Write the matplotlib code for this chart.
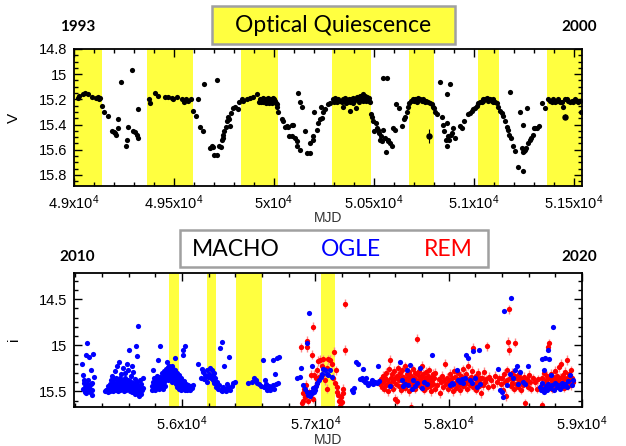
import matplotlib
matplotlib.use('Agg')
import matplotlib.pyplot as plt
from matplotlib.ticker import MultipleLocator, FuncFormatter
from matplotlib.patches import Rectangle

plt.rcParams['font.family'] = ['Liberation Sans', 'DejaVu Sans']
plt.rcParams['mathtext.default'] = 'regular'

# ---------------- top panel: MACHO V light curve (MJD, V) ----------------
macho_pts = [
    (49020, 15.19), (49025, 15.17), (49045, 15.16), (49055, 15.15), (49070, 15.16), (49090, 15.18),
    (49110, 15.19), (49118, 15.18), (49125, 15.20), (49130, 15.19),
    (49140, 15.25), (49150, 15.30), (49168, 15.33), (49192, 15.45), (49200, 15.46), (49205, 15.47),
    (49210, 15.48), (49218, 15.43), (49222, 15.36), (49237, 15.06), (49258, 15.57), (49263, 15.52),
    (49272, 15.42), (49288, 14.97), (49293, 15.45), (49303, 15.46), (49317, 15.48), (49320, 15.51),
    (49322, 15.28),
    (49377, 15.20), (49380, 15.23), (49405, 15.15), (49422, 15.17), (49455, 15.18), (49472, 15.18),
    (49488, 15.19), (49497, 15.20), (49517, 15.18), (49538, 15.20), (49550, 15.22), (49560, 15.20),
    (49572, 15.21), (49583, 15.20),
    (49597, 15.29), (49610, 15.33), (49622, 15.20), (49630, 15.42), (49643, 15.45), (49650, 15.08),
    (49680, 15.59), (49688, 15.57), (49697, 15.58), (49702, 15.64), (49713, 15.64), (49717, 15.05),
    (49727, 15.57), (49733, 15.58), (49738, 15.52), (49743, 15.51), (49747, 15.48), (49752, 15.45),
    (49758, 15.42), (49763, 15.37), (49768, 15.34), (49775, 15.36), (49780, 15.41), (49785, 15.31),
    (49793, 15.27), (49805, 15.26), (49818, 15.28), (49827, 15.22), (49838, 15.20),
    (49847, 15.21), (49863, 15.20), (49880, 15.19), (49897, 15.18), (49913, 15.16), (49925, 15.22),
    (49930, 15.20), (49935, 15.22), (49938, 15.20), (49940, 15.21), (49943, 15.22), (49947, 15.19),
    (49950, 15.20), (49955, 15.21), (49958, 15.23), (49960, 15.20), (49963, 15.20), (49967, 15.22),
    (49970, 15.22), (49972, 15.19), (49975, 15.23), (49977, 15.21), (49980, 15.20), (49983, 15.22),
    (49985, 15.21), (49988, 15.20), (49990, 15.23), (49993, 15.20), (49997, 15.19), (50000, 15.22),
    (50002, 15.20), (50005, 15.21), (50008, 15.23), (50013, 15.24), (50017, 15.26),
    (50022, 15.30), (50038, 15.36), (50047, 15.37), (50055, 15.42), (50063, 15.41), (50072, 15.42),
    (50077, 15.49), (50088, 15.40), (50090, 15.49), (50097, 15.40), (50105, 15.51), (50113, 15.53),
    (50117, 15.57), (50122, 15.15), (50128, 15.22), (50132, 15.60), (50138, 15.26), (50155, 15.45),
    (50163, 15.63), (50180, 15.63), (50182, 15.55), (50193, 15.52), (50197, 15.49), (50200, 15.30),
    (50213, 15.44), (50222, 15.39), (50230, 15.36), (50233, 15.26), (50238, 15.35), (50247, 15.30),
    (50255, 15.28), (50272, 15.24), (50280, 15.23),
    (50297, 15.20), (50300, 15.22), (50305, 15.19), (50310, 15.21), (50317, 15.22), (50322, 15.20),
    (50330, 15.21), (50338, 15.22), (50343, 15.20), (50345, 15.26), (50350, 15.21), (50355, 15.19),
    (50358, 15.23), (50363, 15.22), (50368, 15.21), (50373, 15.20), (50378, 15.29), (50380, 15.22),
    (50385, 15.20), (50390, 15.21), (50395, 15.23), (50397, 15.19), (50402, 15.21), (50407, 15.20),
    (50412, 15.27), (50413, 15.18), (50418, 15.20), (50423, 15.19), (50425, 15.22), (50430, 15.17),
    (50435, 15.20), (50440, 15.18), (50445, 15.21), (50447, 15.16), (50452, 15.19), (50457, 15.17),
    (50460, 15.21), (50463, 15.18), (50468, 15.20), (50473, 15.21), (50475, 15.19), (50480, 15.22),
    (50483, 15.32), (50488, 15.34), (50497, 15.37), (50500, 15.45), (50510, 15.39), (50517, 15.43),
    (50522, 15.44), (50527, 15.47), (50530, 15.52), (50533, 15.49), (50538, 15.53), (50543, 15.44),
    (50547, 15.03), (50567, 15.03), (50555, 15.51), (50560, 15.62), (50569, 15.53), (50572, 15.52),
    (50580, 15.55), (50588, 15.57), (50597, 15.43), (50605, 15.44), (50610, 15.24), (50627, 15.27),
    (50638, 15.41), (50650, 15.36), (50655, 15.34), (50663, 15.30), (50672, 15.26),
    (50677, 15.23), (50683, 15.21), (50693, 15.20), (50700, 15.21), (50705, 15.20), (50713, 15.20),
    (50717, 15.22), (50722, 15.19), (50730, 15.20), (50738, 15.21), (50745, 15.20), (50750, 15.21),
    (50755, 15.22), (50760, 15.21), (50772, 15.22), (50780, 15.23), (50788, 15.24), (50793, 15.26),
    (50800, 15.27), (50805, 15.30), (50813, 15.32), (50830, 15.06), (50838, 15.34), (50847, 15.40),
    (50850, 15.45), (50860, 15.52), (50863, 15.16), (50865, 15.57), (50867, 15.39), (50872, 15.49),
    (50877, 15.52), (50880, 15.08), (50883, 15.48), (50888, 15.47), (50897, 15.43), (50905, 15.51),
    (50930, 15.41), (50942, 15.43), (50950, 15.37), (50972, 15.32), (50980, 15.31), (50988, 15.29),
    (50997, 15.28), (51005, 15.27), (51013, 15.25),
    (51022, 15.23), (51030, 15.22), (51038, 15.22), (51043, 15.21), (51047, 15.20), (51055, 15.20),
    (51063, 15.19), (51068, 15.21), (51072, 15.20), (51080, 15.20), (51088, 15.21), (51093, 15.20),
    (51097, 15.22), (51105, 15.22), (51113, 15.23), (51122, 15.26),
    (51130, 15.29), (51138, 15.31), (51143, 15.33), (51155, 15.37), (51163, 15.42), (51172, 15.44),
    (51177, 15.48), (51180, 15.14), (51183, 15.51), (51193, 15.57), (51205, 15.61), (51222, 15.74),
    (51230, 15.30), (51238, 15.59), (51243, 15.62), (51245, 15.40), (51247, 15.77), (51250, 15.61),
    (51255, 15.60), (51260, 15.59), (51267, 15.27), (51272, 15.55), (51280, 15.52), (51285, 15.51),
    (51297, 15.48), (51299, 15.43), (51305, 15.43), (51313, 15.43), (51327, 15.41), (51338, 15.23),
    (51355, 15.27),
    (51372, 15.20), (51380, 15.21), (51388, 15.22), (51397, 15.20), (51405, 15.22), (51413, 15.21),
    (51422, 15.20), (51430, 15.22), (51438, 15.22), (51447, 15.26), (51455, 15.20), (51463, 15.20),
    (51472, 15.21), (51480, 15.22), (51488, 15.21), (51497, 15.22), (51505, 15.20), (51513, 15.21),
    (51522, 15.22), (51530, 15.21), (51535, 15.30),
]
macho_err_mjd = [50777, 51455]
macho_err_v = [15.49, 15.34]
macho_err_e = [0.055, 0.02]

top_bands = [(49000, 49140), (49364, 49594), (49837, 50022), (50288, 50483),
             (50673, 50800), (51022, 51125), (51365, 51540)]

# ---------------- bottom panel: OGLE (blue) and REM (red), (MJD, i) ----------------
ogle_pts = [
    (55247, 15.20), (55255, 15.47), (55260, 15.32), (55265, 15.41), (55267, 15.38), (55272, 15.45),
    (55274, 15.51), (55277, 15.52), (55280, 15.11), (55285, 15.42), (55287, 15.47), (55290, 14.97),
    (55295, 15.49), (55297, 15.38), (55300, 15.43), (55302, 15.13), (55305, 15.44), (55310, 15.47),
    (55312, 15.51), (55315, 15.27), (55317, 15.42), (55322, 15.49), (55324, 15.41), (55327, 15.54),
    (55335, 15.09), (55337, 15.34),
    (55422, 15.50), (55430, 15.49), (55437, 15.48), (55442, 15.51), (55447, 15.44), (55452, 15.47),
    (55457, 15.42), (55460, 15.50), (55465, 15.38), (55470, 15.45), (55472, 15.33), (55477, 15.48),
    (55480, 15.41), (55485, 15.50), (55487, 15.37), (55492, 15.45), (55495, 15.28), (55498, 15.42),
    (55502, 15.48), (55505, 15.35), (55510, 15.44), (55512, 15.22), (55515, 15.40), (55518, 15.50),
    (55522, 15.38), (55525, 15.46), (55528, 15.18), (55530, 15.42), (55535, 15.36), (55537, 15.49),
    (55540, 15.44), (55543, 15.31), (55546, 15.40), (55550, 15.47), (55553, 15.38), (55556, 15.45),
    (55560, 15.25), (55562, 15.41), (55566, 15.50), (55570, 15.36), (55573, 15.44), (55576, 15.30),
    (55580, 15.48), (55583, 15.40), (55586, 15.20), (55590, 15.45), (55593, 15.38), (55596, 15.27),
    (55600, 15.46), (55603, 15.42), (55605, 15.05), (55608, 15.50), (55612, 15.39), (55615, 15.33),
    (55618, 15.47), (55622, 15.44), (55625, 15.23), (55628, 15.51), (55632, 15.41), (55635, 15.29),
    (55638, 15.48), (55642, 15.45), (55645, 15.53), (55650, 15.37), (55652, 15.43), (55655, 15.01),
    (55658, 15.49), (55660, 15.52), (55663, 15.40), (55666, 15.12), (55668, 15.46), (55672, 14.79),
    (55674, 15.55), (55677, 15.50), (55680, 15.44), (55683, 15.38), (55686, 15.51), (55690, 15.47),
    (55693, 15.42), (55696, 15.53), (55700, 15.49), (55704, 15.36), (55708, 15.46),
    (55772, 15.44), (55776, 15.48), (55780, 15.40), (55785, 15.27), (55788, 15.45), (55792, 15.36),
    (55795, 15.49), (55800, 15.42), (55803, 15.38), (55807, 15.46), (55810, 15.33), (55814, 15.44),
    (55818, 15.40), (55822, 15.16), (55825, 15.47), (55828, 15.37), (55832, 15.43), (55835, 15.01),
    (55838, 15.34), (55842, 15.45), (55845, 15.39), (55848, 15.30), (55852, 15.42), (55855, 15.36),
    (55858, 15.47), (55862, 15.33), (55865, 15.40), (55868, 15.28), (55872, 15.37), (55875, 15.44),
    (55878, 15.31), (55882, 15.26), (55885, 15.18), (55888, 15.34), (55892, 15.24), (55895, 15.29),
    (55898, 15.38), (55902, 15.22), (55905, 15.27), (55908, 15.33), (55912, 15.25), (55915, 15.30),
    (55918, 15.36), (55922, 15.23), (55925, 15.28), (55928, 15.40), (55932, 15.26), (55935, 15.32),
    (55938, 15.29), (55942, 15.37), (55945, 15.31), (55947, 15.14), (55950, 15.27), (55953, 15.42),
    (55956, 15.34), (55960, 15.30), (55963, 15.39), (55966, 15.45), (55970, 15.35), (55973, 15.41),
    (55976, 15.32), (55980, 15.47), (55983, 15.38), (55986, 15.44), (55990, 15.40), (55993, 15.48),
    (55996, 15.36), (56000, 15.43), (56003, 15.46), (56005, 15.11), (56008, 15.41), (56010, 15.05),
    (56013, 15.47), (56016, 15.39), (56020, 15.44), (56022, 15.01), (56026, 15.48), (56030, 15.42),
    (56035, 15.46), (56040, 15.49), (56045, 15.43), (56050, 15.47), (56056, 15.45), (56062, 15.48),
    (56068, 15.44), (56075, 15.46), (56082, 15.43),
    (56122, 15.20), (56140, 15.35), (56150, 15.26), (56160, 15.29), (56165, 15.37), (56172, 15.32),
    (56178, 15.33), (56185, 15.27), (56190, 15.40), (56197, 15.34), (56205, 15.31), (56210, 15.25),
    (56215, 15.35), (56222, 15.27), (56230, 15.38), (56235, 15.32), (56240, 15.30), (56242, 15.41),
    (56250, 15.36), (56255, 15.45), (56260, 15.44), (56265, 15.40), (56272, 15.47), (56280, 15.43),
    (56285, 15.03), (56290, 15.48), (56297, 15.50), (56302, 14.96), (56310, 15.45), (56317, 15.23),
    (56322, 15.49), (56330, 15.50), (56335, 15.47), (56340, 15.42), (56347, 15.45), (56355, 15.13),
    (56360, 15.49), (56372, 15.44), (56385, 15.41), (56397, 15.40),
    (56497, 15.41), (56522, 15.40), (56540, 15.35), (56555, 15.38), (56565, 15.41), (56580, 15.42),
    (56592, 15.44),
    (56610, 15.16), (56615, 15.45), (56620, 15.38), (56630, 15.42), (56635, 15.49), (56647, 15.47),
    (56655, 15.44), (56660, 15.49), (56672, 15.45), (56680, 15.16), (56685, 15.43), (56690, 15.47),
    (56697, 15.31), (56705, 15.42), (56715, 15.14), (56722, 15.41), (56730, 15.13),
    (56860, 15.35), (56885, 15.34), (56890, 15.25), (56910, 15.43), (56922, 15.47), (56935, 14.98),
    (56937, 15.51), (56947, 15.54), (56955, 14.65), (56960, 15.55), (56967, 15.51), (56972, 15.52),
    (56975, 15.23), (56985, 15.46), (56988, 15.51), (56997, 15.49), (57005, 15.44), (57015, 15.41),
    (57030, 15.38), (57040, 15.34), (57047, 15.31), (57060, 15.26), (57072, 15.27), (57085, 15.31),
    (57097, 15.32), (57110, 15.27), (57122, 15.34),
    (57272, 15.49), (57285, 15.51), (57290, 15.46), (57305, 15.18), (57322, 15.20), (57335, 15.37),
    (57347, 15.35), (57355, 15.26), (57360, 15.38), (57372, 15.40), (57380, 15.36), (57390, 15.41),
    (57397, 15.43), (57410, 15.41), (57422, 15.38), (57435, 15.42), (57447, 15.40), (57460, 15.41),
    (57472, 15.23), (57480, 15.39),
    (57560, 15.44), (57635, 15.18), (57647, 15.38), (57660, 15.44), (57672, 15.42), (57685, 15.27),
    (57697, 15.43), (57710, 15.21), (57722, 15.47), (57735, 15.38), (57747, 15.44), (57760, 15.41),
    (57785, 15.25), (57797, 15.46), (57815, 15.40), (57835, 15.42), (57872, 15.11),
    (58010, 15.43), (58022, 15.41), (58035, 15.42), (58060, 15.27), (58072, 15.38), (58085, 15.40),
    (58097, 15.37), (58110, 15.41), (58122, 15.35), (58130, 15.11), (58147, 15.14), (58160, 15.38),
    (58172, 15.41), (58185, 15.06), (58197, 15.36), (58210, 15.45), (58230, 15.05), (58235, 15.42),
    (58372, 15.26), (58385, 15.49), (58397, 15.51), (58405, 15.56), (58415, 14.63), (58435, 15.43),
    (58460, 15.31), (58467, 14.49), (58485, 15.36), (58497, 15.27), (58510, 15.23), (58522, 15.42),
    (58535, 15.29), (58560, 15.40), (58572, 15.42), (58597, 15.23),
    (58685, 15.45), (58692, 15.49), (58697, 15.15), (58702, 15.41), (58710, 15.47), (58715, 15.27),
    (58717, 15.51), (58722, 15.14), (58727, 15.44), (58735, 15.48), (58742, 15.42), (58747, 15.05),
    (58755, 15.15), (58760, 15.46), (58765, 15.32), (58772, 15.43), (58785, 14.80), (58788, 15.48),
    (58797, 15.41), (58810, 15.45), (58822, 15.43), (58835, 15.47), (58847, 15.41), (58860, 15.44),
    (58872, 15.42), (58885, 15.45), (58897, 15.39), (58910, 15.32), (58922, 15.43), (58935, 15.38),
]

rem_pts = [
    (56890, 15.02), (56897, 15.63), (56905, 15.60), (56910, 15.52), (56915, 15.47), (56922, 15.56),
    (56930, 15.43), (56935, 14.95), (56940, 15.02), (56947, 15.60), (56955, 15.51), (56960, 15.54),
    (56965, 15.32), (56972, 15.10), (56980, 15.58), (56985, 14.80), (56990, 15.32), (56997, 15.45),
    (57005, 15.36), (57010, 15.27), (57012, 15.41), (57022, 15.17), (57030, 15.34), (57035, 15.16),
    (57047, 15.32), (57050, 15.23), (57060, 15.15), (57072, 15.38), (57085, 15.25), (57088, 15.47),
    (57097, 15.15), (57110, 15.16), (57122, 15.20), (57135, 15.35), (57142, 15.07), (57147, 15.41),
    (57155, 15.27), (57160, 15.45), (57165, 15.51), (57172, 15.54), (57180, 15.60), (57185, 15.66),
    (57192, 15.56), (57197, 15.62), (57205, 15.52), (57210, 15.47), (57222, 15.05), (57224, 14.55),
    (57485, 15.42), (57492, 15.37), (57498, 15.45), (57505, 15.33), (57510, 15.40), (57516, 15.47),
    (57522, 15.35), (57528, 15.30), (57533, 15.43), (57540, 15.38), (57545, 15.50), (57550, 15.26),
    (57556, 15.41), (57560, 15.16), (57565, 15.36), (57570, 15.44), (57575, 15.31), (57580, 15.39),
    (57585, 15.47), (57590, 15.28), (57597, 15.58), (57600, 15.35), (57605, 15.42), (57610, 15.60),
    (57614, 15.33), (57620, 15.25), (57625, 15.44), (57630, 15.38), (57636, 15.30), (57640, 15.48),
    (57645, 15.36), (57650, 15.27), (57655, 15.43), (57660, 15.34), (57665, 15.40), (57670, 15.23),
    (57675, 15.46), (57680, 15.37), (57686, 15.31), (57690, 15.42), (57695, 15.35), (57700, 15.50),
    (57705, 15.29), (57710, 15.39), (57717, 15.67), (57720, 15.33), (57725, 15.44), (57730, 15.26),
    (57735, 15.40), (57740, 15.36), (57745, 15.47), (57750, 15.30), (57755, 15.38), (57760, 14.93),
    (57765, 15.43), (57770, 15.32), (57775, 15.41), (57780, 15.28), (57785, 15.37), (57790, 15.45),
    (57796, 15.34), (57800, 15.22), (57805, 15.40), (57810, 15.31), (57815, 15.48), (57820, 15.36),
    (57826, 15.42), (57830, 15.29), (57835, 15.38), (57840, 15.45), (57846, 15.33), (57850, 15.40),
    (57855, 15.27), (57860, 15.44), (57866, 15.35), (57870, 15.50), (57875, 15.38), (57880, 15.31),
    (57886, 15.42), (57890, 15.36), (57896, 15.47), (57900, 15.30),
    (57915, 15.43), (57925, 15.37), (57935, 15.52), (57945, 15.40), (57952, 15.33), (57960, 15.45),
    (57968, 15.38), (57975, 15.20), (57982, 15.42), (57990, 15.35), (57998, 15.47), (58005, 15.39),
    (58012, 15.31), (58020, 15.44), (58026, 15.36), (58032, 15.50), (58038, 15.28), (58045, 15.41),
    (58050, 15.34), (58056, 15.46), (58062, 15.37), (58068, 15.30), (58074, 15.43), (58080, 15.38),
    (58086, 15.49), (58092, 15.33), (58098, 15.40), (58104, 15.26), (58110, 15.44), (58116, 15.35),
    (58122, 15.42), (58128, 15.31), (58134, 15.39), (58140, 15.47), (58146, 15.22), (58152, 15.37),
    (58158, 15.43), (58164, 15.34), (58170, 15.40), (58176, 15.28), (58182, 15.45), (58185, 15.03),
    (58190, 15.36), (58196, 15.42), (58202, 15.33), (58208, 15.48), (58214, 15.38), (58220, 15.30),
    (58226, 15.44), (58232, 15.36), (58238, 15.41), (58244, 15.52), (58250, 15.35), (58256, 15.43),
    (58262, 15.29), (58270, 15.40), (58278, 15.37), (58285, 15.01), (58292, 15.45), (58300, 15.34),
    (58315, 15.38), (58330, 15.44), (58345, 15.33), (58360, 15.40), (58375, 15.36),
    (58390, 15.42), (58398, 15.36), (58405, 15.48), (58412, 15.31), (58420, 15.40), (58428, 15.55),
    (58435, 15.38), (58440, 15.27), (58447, 14.96), (58449, 15.05), (58455, 14.61), (58460, 15.35),
    (58466, 15.44), (58472, 15.30), (58478, 15.41), (58484, 15.37), (58490, 15.47), (58497, 14.97),
    (58500, 15.33), (58506, 15.42), (58512, 15.36), (58518, 15.45), (58524, 15.31), (58530, 15.40),
    (58536, 15.35), (58542, 15.48), (58550, 15.38), (58556, 15.43), (58562, 15.34), (58572, 15.63),
    (58578, 15.41), (58585, 15.37), (58592, 15.45), (58600, 15.32), (58610, 15.40), (58620, 15.47),
    (58630, 15.36), (58645, 15.40), (58660, 15.47), (58672, 15.37),
    (58690, 15.44), (58697, 15.65), (58703, 15.35), (58710, 15.42), (58716, 15.30), (58722, 15.46),
    (58728, 15.38), (58734, 15.33), (58740, 15.41), (58747, 15.02), (58750, 15.36), (58755, 14.98),
    (58760, 15.44), (58766, 15.31), (58772, 15.39), (58778, 15.47), (58784, 15.34), (58790, 15.42),
    (58796, 15.28), (58802, 15.37), (58808, 15.45), (58814, 15.33), (58820, 15.40), (58826, 15.24),
    (58832, 15.43), (58838, 15.35), (58844, 15.20), (58850, 15.41), (58856, 15.32), (58862, 15.46),
    (58868, 15.37), (58874, 15.29), (58880, 15.42), (58885, 15.16), (58890, 15.36), (58896, 15.44),
    (58902, 15.31), (58908, 15.39), (58914, 15.27), (58920, 15.43), (58926, 15.35), (58932, 15.40),
]
rem_err = 0.05

bottom_bands = [(55905, 55978), (56190, 56255), (56403, 56598), (57042, 57147)]

top_xticks = [49000, 49500, 50000, 50500, 51000, 51500]
top_yticks = [14.8, 15.0, 15.2, 15.4, 15.6, 15.8]
bot_xticks = [56000, 57000, 58000, 59000]
bot_yticks = [14.5, 15.0, 15.5]

top_title = "Optical Quiescence"
legend_names = ["MACHO", "OGLE", "REM"]
legend_colors = ["black", "#0000ff", "#ff0000"]
years_top = ("1993", "2000")
years_bot = ("2010", "2020")

YELLOW = '#ffff40'

fig = plt.figure(figsize=(6.26, 4.46), dpi=100)
ax1 = fig.add_axes([0.1182, 0.5830, 0.8115, 0.3072])
ax2 = fig.add_axes([0.1182, 0.0874, 0.8115, 0.3016])


def mjd_fmt(v, pos):
    return f"{v / 1e4:g}x10$^{{4}}$"


def style(ax, xmaj, xmin, ymaj, ymin):
    ax.xaxis.set_major_locator(MultipleLocator(xmaj))
    ax.xaxis.set_minor_locator(MultipleLocator(xmin))
    ax.yaxis.set_major_locator(MultipleLocator(ymaj))
    ax.yaxis.set_minor_locator(MultipleLocator(ymin))
    ax.xaxis.set_major_formatter(FuncFormatter(mjd_fmt))
    ax.yaxis.set_major_formatter(FuncFormatter(lambda v, p: f"{v:g}"))
    ax.tick_params(which='both', direction='in', top=True, right=True, width=1.0,
                   labelsize=10.5, colors='black')
    ax.tick_params(which='major', length=6, pad=5)
    ax.tick_params(which='minor', length=3)
    for s in ax.spines.values():
        s.set_linewidth(1.3)


# top panel
for a, b in top_bands:
    ax1.axvspan(a, b, color=YELLOW, lw=0, zorder=0)
mx, mv = zip(*macho_pts)
ax1.scatter(mx, mv, s=14, c='black', lw=0, zorder=3)
ax1.errorbar(macho_err_mjd, macho_err_v, yerr=macho_err_e, fmt='o', ms=3.6, color='black',
             elinewidth=0.8, capsize=0, zorder=3)
ax1.set_xlim(49000, 51540)
ax1.set_ylim(15.888, 14.8)
style(ax1, 500, 100, 0.2, 0.05)
ax1.set_xticks(top_xticks)
ax1.set_yticks(top_yticks)
ax1.set_ylabel("V", fontsize=11)
ax1.set_xlabel("MJD", fontsize=10, color='#333333')
ax1.yaxis.set_label_coords(-0.105, 0.5)
ax1.xaxis.set_label_coords(0.5, -0.185)

# bottom panel
for a, b in bottom_bands:
    ax2.axvspan(a, b, color=YELLOW, lw=0, zorder=0)
rx, ri = zip(*rem_pts)
ax2.errorbar(rx, ri, yerr=rem_err, fmt='o', ms=3.8, color='#ff0000', mec='none',
             ecolor='#ff8a8a', elinewidth=1.0, capsize=0, zorder=2)
ox, oi = zip(*ogle_pts)
ax2.scatter(ox, oi, s=14, c='#0000ff', lw=0, zorder=3)
ax2.set_xlim(55190, 59000)
ax2.set_ylim(15.67, 14.21)
style(ax2, 1000, 200, 0.5, 0.1)
ax2.set_xticks(bot_xticks)
ax2.set_yticks(bot_yticks)
ax2.set_ylabel("i", fontsize=11)
ax2.set_xlabel("MJD", fontsize=10, color='#333333')
ax2.yaxis.set_label_coords(-0.105, 0.5)
ax2.xaxis.set_label_coords(0.5, -0.195)

# title box (top)
fig.patches.append(Rectangle((0.3387, 0.9013), 0.3882, 0.0852, transform=fig.transFigure,
                             facecolor=YELLOW, edgecolor='#a0a0a0', lw=1.8, zorder=5))
fig.text(0.5327, 0.9439, top_title, fontsize=16.5, family=['Lato', 'DejaVu Sans'],
         ha='center', va='center', zorder=6)

# legend box (bottom)
fig.patches.append(Rectangle((0.2875, 0.4013), 0.492, 0.083, transform=fig.transFigure,
                             facecolor='white', edgecolor='#a0a0a0', lw=1.8, zorder=5))
for name, col, xc in zip(legend_names, legend_colors, [0.377, 0.5607, 0.7157]):
    fig.text(xc, 0.4395, name, fontsize=16.5, family=['Lato', 'DejaVu Sans'], color=col,
             ha='center', va='center', zorder=6)

# year labels
yk = dict(fontsize=11, family=['Lato', 'DejaVu Sans'], weight='bold', ha='center', va='center')
fig.text(0.1246, 0.9395, years_top[0], **yk)
fig.text(0.925, 0.9395, years_top[1], **yk)
fig.text(0.1230, 0.4238, years_bot[0], **yk)
fig.text(0.925, 0.4238, years_bot[1], **yk)

fig.savefig("out.png", dpi=100)
